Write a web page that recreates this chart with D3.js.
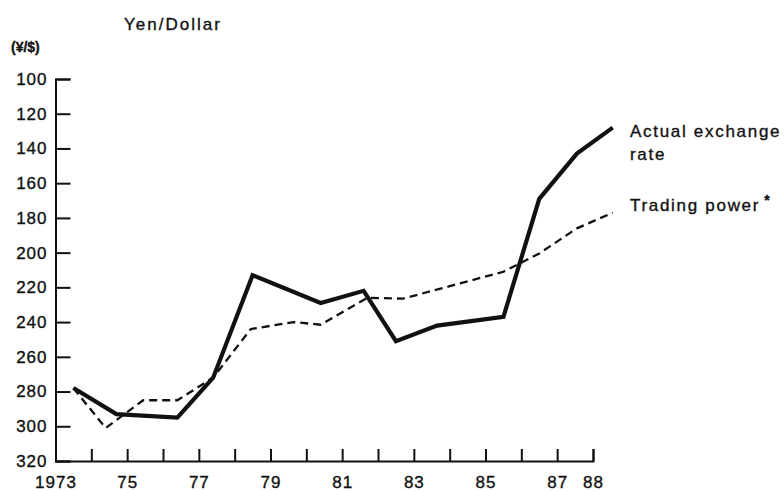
<!DOCTYPE html>
<html>
<head>
<meta charset="utf-8">
<script src="https://cdn.jsdelivr.net/npm/d3@7"></script>
<style>
  html, body { margin: 0; padding: 0; background: #fff; }
  svg { display: block; }
  text { font-family: "Liberation Sans", Arial, sans-serif; fill: #111; stroke: #111; stroke-width: 0.35px; }
</style>
</head>
<body>
<svg id="chart" width="784" height="491"></svg>
<script>
// values (x is position in years, y is yen per dollar)
const actualYears  = [1973.5, 1974.7, 1976.4, 1977.4, 1978.5, 1980.4, 1981.6, 1982.5, 1983.65, 1985.5, 1986.5, 1987.55, 1988.55];
const actualRates  = [278, 293, 295, 272, 213, 229, 222, 251, 242, 237, 169, 143, 128];
const tradingYears = [1973.5, 1974.4, 1975.45, 1976.4, 1977.4, 1978.45, 1979.65, 1980.4, 1981.7, 1982.7, 1985.5, 1986.5, 1987.55, 1988.55];
const tradingRates = [278, 301, 285, 285, 272, 244, 240, 241.5, 226, 226.5, 211, 200.5, 186, 177];
const yTicks = d3.range(100, 321, 20);
const xTicks = d3.range(1973, 1989);
const xLabels = {1973: "1973", 1975: "75", 1977: "77", 1979: "79", 1981: "81", 1983: "83", 1985: "85", 1987: "87", 1988: "88"};

const svg = d3.select("#chart");
const x = d3.scaleLinear().domain([1973, 1988]).range([55.5, 593]);
const y = d3.scaleLinear().domain([100, 320]).range([79, 461]);

// y axis: ticks point inward (right)
const yAxis = svg.append("g")
    .attr("transform", `translate(${x(1973)},0)`)
    .call(d3.axisLeft(y).tickValues(yTicks).tickSizeInner(-15).tickSizeOuter(-15).tickPadding(8));

// x axis: ticks point up
const xAxis = svg.append("g")
    .attr("transform", `translate(0,${y(320)})`)
    .call(d3.axisBottom(x).tickValues(xTicks).tickSizeInner(-12).tickSizeOuter(-12).tickPadding(12)
        .tickFormat(d => xLabels[d] || ""));

[yAxis, xAxis].forEach(g => {
    g.select(".domain").attr("stroke", "#111").attr("stroke-width", 2);
    g.selectAll(".tick line").attr("stroke", "#111").attr("stroke-width", 2);
    g.selectAll(".tick text")
        .attr("font-size", 17)
        .attr("letter-spacing", 1)
        .attr("font-family", "Liberation Sans, Arial, sans-serif")
        .attr("fill", "#111");
});
xAxis.selectAll(".tick text").attr("dy", "0.9em");

const line = d3.line().x(d => x(d[0])).y(d => y(d[1]));

svg.append("path")
    .datum(d3.zip(tradingYears, tradingRates))
    .attr("d", line)
    .attr("fill", "none")
    .attr("stroke", "#111")
    .attr("stroke-width", 2.3)
    .attr("stroke-dasharray", "8,5");

svg.append("path")
    .datum(d3.zip(actualYears, actualRates))
    .attr("d", line)
    .attr("fill", "none")
    .attr("stroke", "#111")
    .attr("stroke-width", 4.2)
    .attr("stroke-linejoin", "miter");

// titles
svg.append("text").attr("x", 124).attr("y", 30)
    .attr("font-size", 17).attr("letter-spacing", 2).text("Yen/Dollar");
svg.append("text").attr("x", 11).attr("y", 52)
    .attr("font-size", 14).attr("font-weight", "bold").text("(¥/$)");

// line labels
const lab = svg.append("g").attr("font-size", 17).attr("letter-spacing", 1.7);
lab.append("text").attr("x", 630).attr("y", 137).text("Actual exchange");
lab.append("text").attr("x", 630).attr("y", 160).text("rate");
const tp = lab.append("text").attr("x", 630).attr("y", 211).text("Trading power");
tp.append("tspan").attr("dx", 4).attr("dy", -6).attr("font-size", 14).attr("font-weight", "bold").text("*");
</script>
</body>
</html>
